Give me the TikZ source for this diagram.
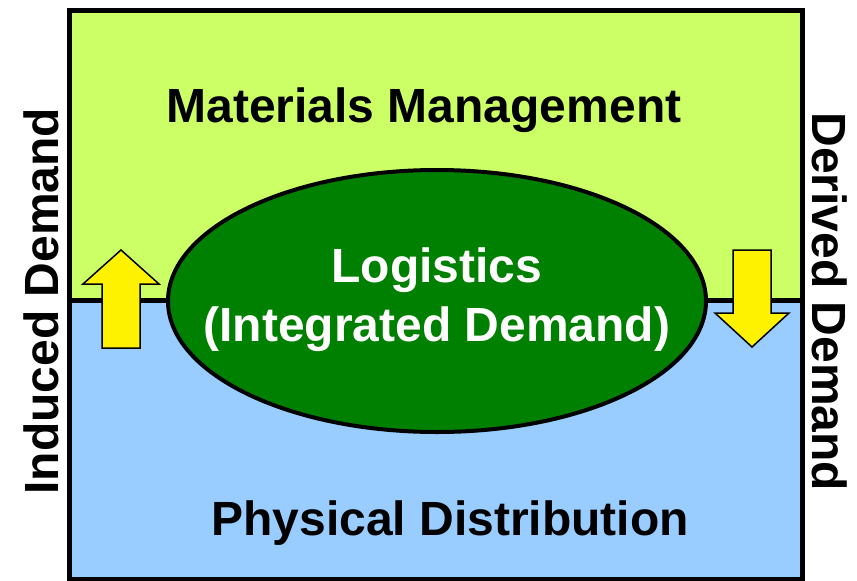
\documentclass[tikz,border=0pt]{standalone}
\usepackage{fontspec}
\setmainfont{Liberation Sans}
\usetikzlibrary{shapes.geometric}

\definecolor{matgreen}{HTML}{CCFF66}
\definecolor{distblue}{HTML}{99CCFF}
\definecolor{loggreen}{HTML}{008000}

\begin{document}
\begin{tikzpicture}[x=1pt, y=-1pt,
    big/.style = {font=\fontsize{48}{59}\selectfont\bfseries},
    yarrow/.style = {draw, fill=yellow, line width=1.5pt, line join=miter}]
    \useasboundingbox (0,0) rectangle (857,581);
    \fill[matgreen] (69,10) rectangle (802,300);
    \fill[distblue] (69,300) rectangle (802,579);
    \draw[line width=5pt] (69,300) -- (802,300);
    \draw[yarrow] (102,348) -- (102,284) -- (83,284) -- (121,250) -- (159,284) -- (140,284) -- (140,348) -- cycle;
    \draw[yarrow] (733,250) -- (771,250) -- (771,313) -- (789,313) -- (752,347) -- (715,313) -- (733,313) -- cycle;
    \node[ellipse, draw, fill=loggreen, line width=4pt, minimum width=538pt, minimum height=262pt] (log) at (437,301) {};
    \node[big, text=white, align=center] (logtext) at (437,300) {Logistics\\(Integrated Demand)};
    \node[big, anchor=base] (mm) at (424,122) {Materials Management};
    \node[big, anchor=base] (pd) at (450,535) {Physical Distribution};
    \node[big, anchor=base, rotate=90] (induced) at (58,301) {Induced Demand};
    \node[big, anchor=base, rotate=-90] (derived) at (812,302) {Derived Demand};
    \draw[line width=5pt] (69,10) rectangle (802,579);
\end{tikzpicture}
\end{document}
